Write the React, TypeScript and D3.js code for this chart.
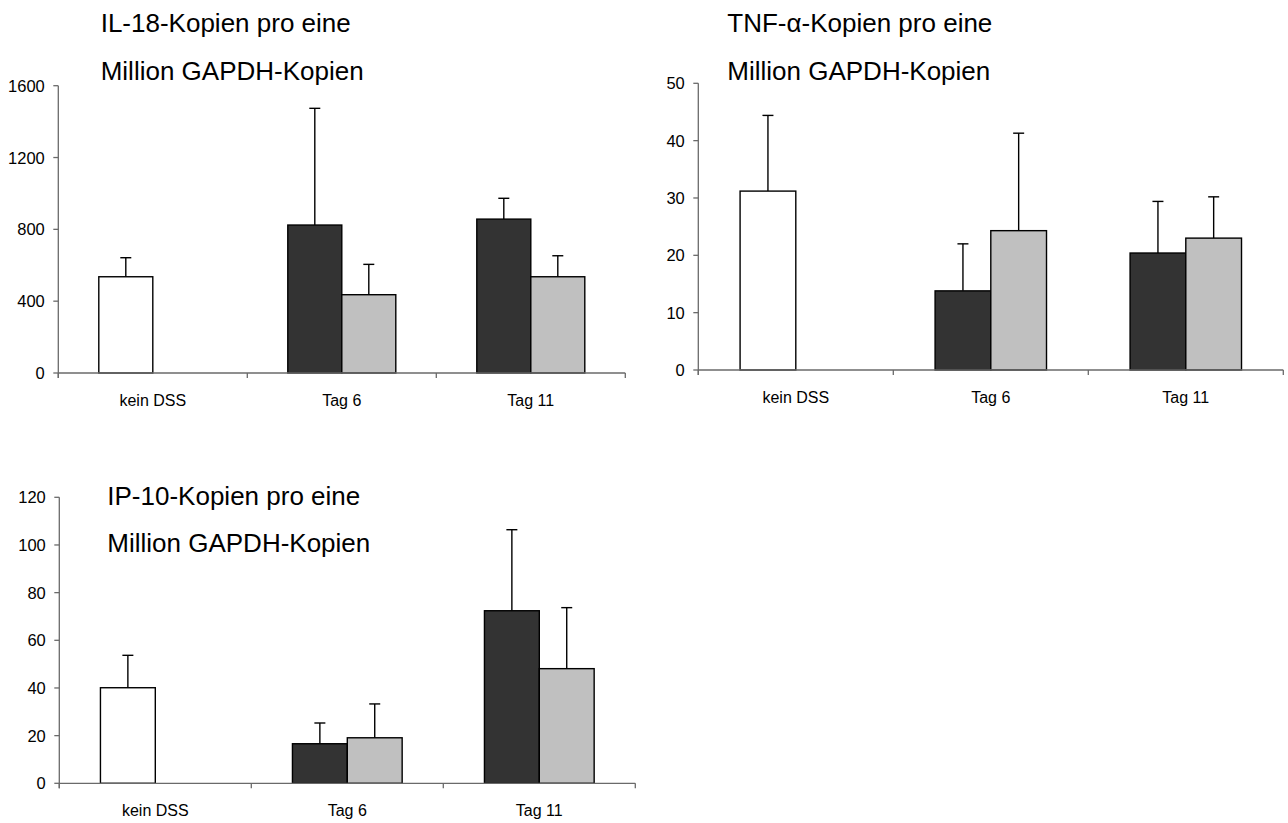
import React from "react";
import * as d3 from "d3";

const categories = ["kein DSS", "Tag 6", "Tag 11"];

// IL-18
const il18Mean1 = [536, 824, 857];
const il18Sd1 = [106, 650, 116];
const il18Mean2: (number | null)[] = [null, 436, 536];
const il18Sd2: (number | null)[] = [null, 169, 117];
const il18Ticks = [0, 400, 800, 1200, 1600];

// TNF-alpha
const tnfMean1 = [31.2, 13.8, 20.4];
const tnfSd1 = [13.2, 8.2, 9.0];
const tnfMean2: (number | null)[] = [null, 24.3, 23.0];
const tnfSd2: (number | null)[] = [null, 17.0, 7.2];
const tnfTicks = [0, 10, 20, 30, 40, 50];

// IP-10
const ip10Mean1 = [40.1, 16.6, 72.4];
const ip10Sd1 = [13.6, 8.7, 34.0];
const ip10Mean2: (number | null)[] = [null, 19.1, 48.1];
const ip10Sd2: (number | null)[] = [null, 14.2, 25.6];
const ip10Ticks = [0, 20, 40, 60, 80, 100, 120];

const series1Colors = ["#ffffff", "#333333", "#333333"];
const series2Color = "#c0c0c0";

const FONT = "'Liberation Sans', Arial, sans-serif";

type PanelProps = {
  x0: number;
  x1: number;
  yTop: number;
  yBottom: number;
  ticks: number[];
  mean1: number[];
  sd1: number[];
  mean2: (number | null)[];
  sd2: (number | null)[];
  title: string[];
  titleX: number;
  titleY: number[];
};

function Panel(p: PanelProps) {
  const max = p.ticks[p.ticks.length - 1];
  const y = d3.scaleLinear().domain([0, max]).range([p.yBottom, p.yTop]);
  const x = d3.scaleBand<string>().domain(categories).range([p.x0, p.x1]).paddingInner(0).paddingOuter(0);
  const bw = x.bandwidth() / 3.5;
  const sub = d3.scaleBand<string>().domain(["s1", "s2"]).range([0, 2 * bw]);
  const off = (x.bandwidth() - 2 * bw) / 2;
  const axisColor = "#6a6a6a";
  const capHalf = 5.5;

  const bars: any[] = [];
  categories.forEach((c, i) => {
    const groups: [string, number | null, number | null, string][] = [
      ["s1", p.mean1[i], p.sd1[i], series1Colors[i]],
      ["s2", p.mean2[i], p.sd2[i], series2Color],
    ];
    groups.forEach(([s, m, sd, col]) => {
      if (m == null) return;
      const bx = (x(c) as number) + off + (sub(s) as number);
      const cx = bx + bw / 2;
      bars.push(
        <g key={c + s}>
          {sd != null && (
            <g stroke="#000" strokeWidth={1.4}>
              <line x1={cx} x2={cx} y1={y(m)} y2={y(m + sd)} />
              <line x1={cx - capHalf} x2={cx + capHalf} y1={y(m + sd)} y2={y(m + sd)} />
            </g>
          )}
          <rect x={bx} y={y(m)} width={bw} height={y(0) - y(m)} fill={col} stroke="#000" strokeWidth={1.4} />
        </g>
      );
    });
  });

  const boundaries = [p.x0, ...categories.map((c) => (x(c) as number) + x.bandwidth())];

  return (
    <g>
      {p.title.map((t, i) => (
        <text key={i} x={p.titleX} y={p.titleY[i]} fontSize={26} fontFamily={FONT} fill="#000">
          {t}
        </text>
      ))}
      {/* y axis */}
      <line x1={p.x0} x2={p.x0} y1={p.yTop} y2={p.yBottom + 5} stroke={axisColor} strokeWidth={1.3} />
      {p.ticks.map((t) => (
        <g key={t}>
          <line x1={p.x0 - 5} x2={p.x0} y1={y(t)} y2={y(t)} stroke={axisColor} strokeWidth={1.3} />
          <text
            x={p.x0 - 13.5}
            y={y(t)}
            textAnchor="end"
            dominantBaseline="central"
            fontSize={16.5}
            fontFamily={FONT}
            fill="#000"
          >
            {t}
          </text>
        </g>
      ))}
      {bars}
      {/* x axis */}
      <line x1={p.x0} x2={p.x1} y1={p.yBottom} y2={p.yBottom} stroke={axisColor} strokeWidth={1.3} />
      {boundaries.map((bx, i) => (
        <line key={i} x1={bx} x2={bx} y1={p.yBottom} y2={p.yBottom + 5} stroke={axisColor} strokeWidth={1.3} />
      ))}
      {categories.map((c) => (
        <text
          key={c}
          x={(x(c) as number) + x.bandwidth() / 2}
          y={p.yBottom + 33}
          textAnchor="middle"
          fontSize={16}
          fontFamily={FONT}
          fill="#000"
        >
          {c}
        </text>
      ))}
    </g>
  );
}

export default function App() {
  return (
    <svg
      width={1288}
      height={823}
      style={{ position: "absolute", left: 0, top: 0, background: "#fff" }}
    >
      <rect x={0} y={0} width={1288} height={823} fill="#fff" />
      <Panel
        x0={58.3}
        x1={625.3}
        yTop={85.7}
        yBottom={373}
        ticks={il18Ticks}
        mean1={il18Mean1}
        sd1={il18Sd1}
        mean2={il18Mean2}
        sd2={il18Sd2}
        title={["IL-18-Kopien pro eine", "Million GAPDH-Kopien"]}
        titleX={100.7}
        titleY={[31.7, 80]}
      />
      <Panel
        x0={698.3}
        x1={1283.3}
        yTop={83.3}
        yBottom={370}
        ticks={tnfTicks}
        mean1={tnfMean1}
        sd1={tnfSd1}
        mean2={tnfMean2}
        sd2={tnfSd2}
        title={["TNF-α-Kopien pro eine", "Million GAPDH-Kopien"]}
        titleX={727.3}
        titleY={[31.7, 80]}
      />
      <Panel
        x0={59.3}
        x1={635.3}
        yTop={497.3}
        yBottom={783.3}
        ticks={ip10Ticks}
        mean1={ip10Mean1}
        sd1={ip10Sd1}
        mean2={ip10Mean2}
        sd2={ip10Sd2}
        title={["IP-10-Kopien pro eine", "Million GAPDH-Kopien"]}
        titleX={107.3}
        titleY={[505, 551.7]}
      />
    </svg>
  );
}
